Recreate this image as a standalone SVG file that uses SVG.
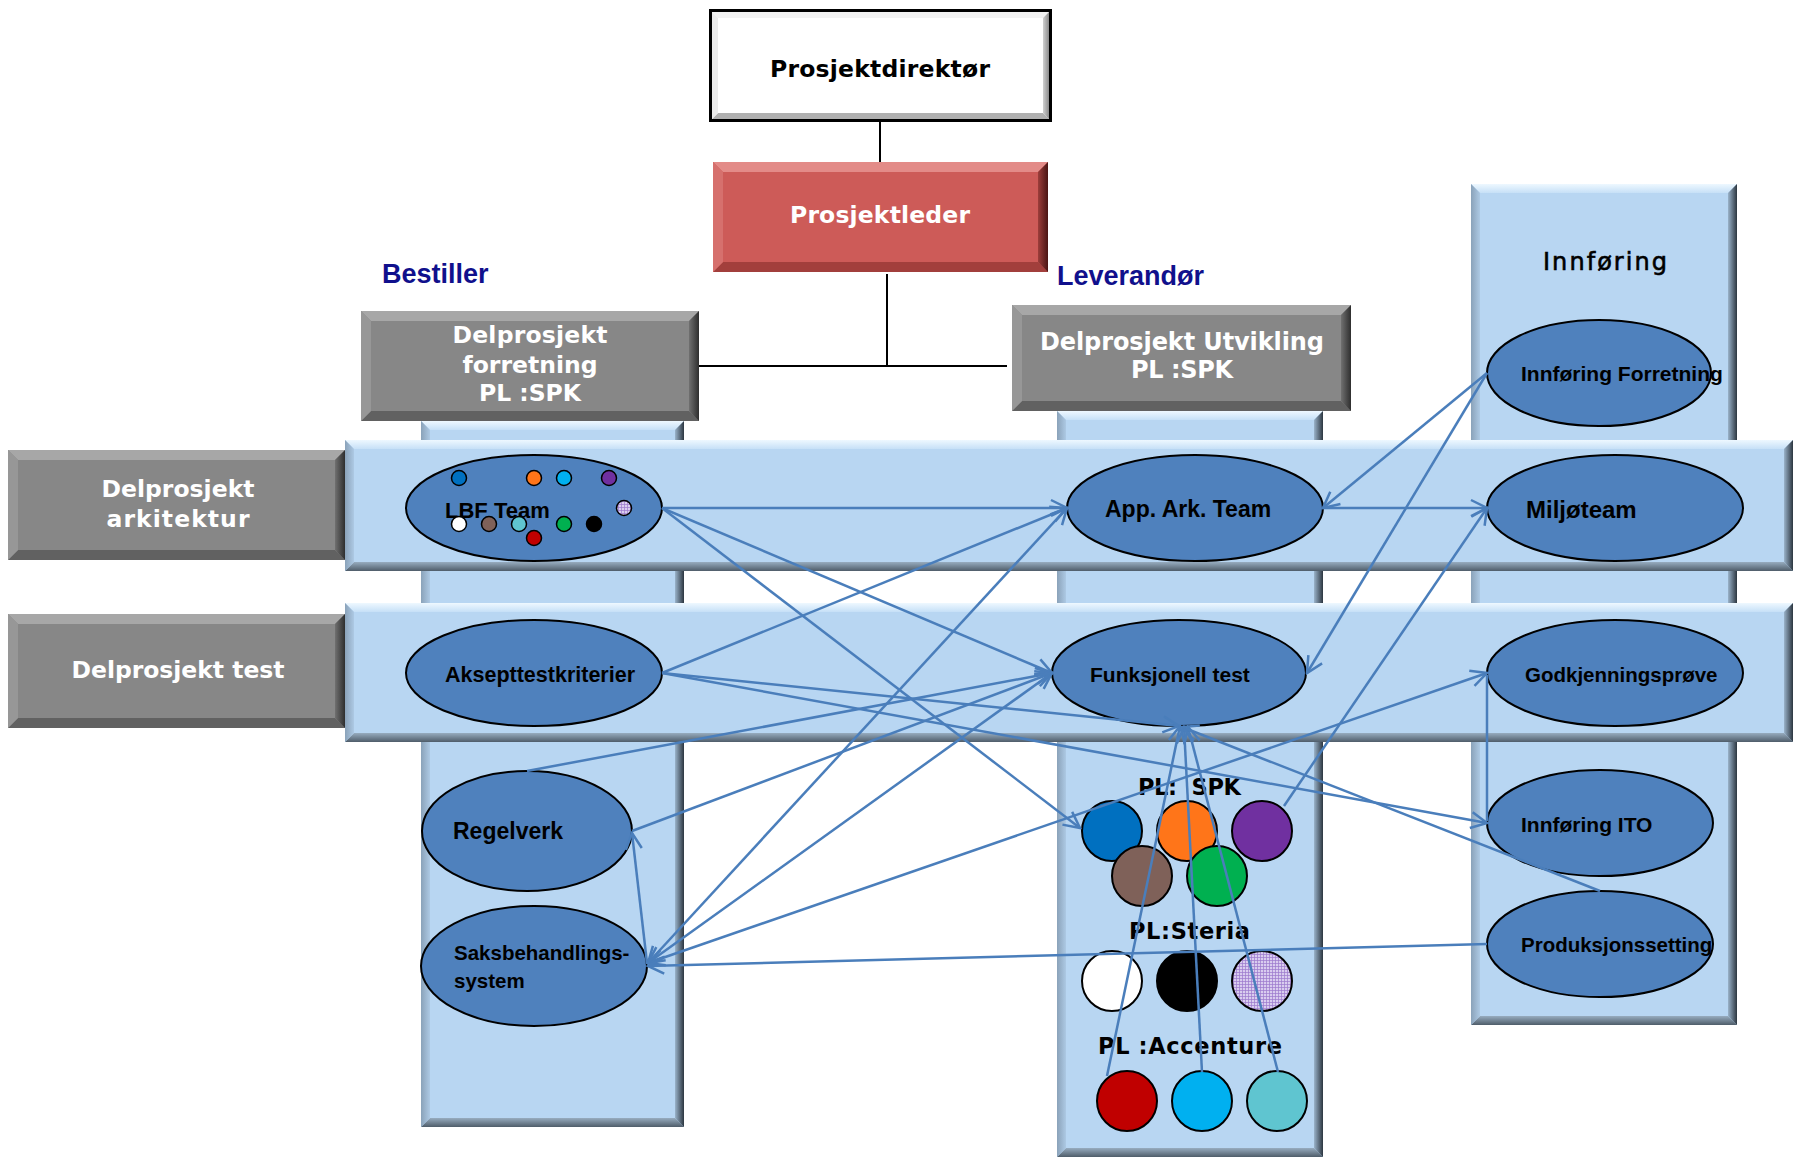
<svg xmlns="http://www.w3.org/2000/svg" width="1793" height="1160" viewBox="0 0 1793 1160">
<defs>
<style>
.gc{fill:#878787}.gt{fill:#A7A7A7}.gl{fill:#979797}.gr{fill:url(#grayR)}.gb{fill:#616161}
.rc{fill:#CD5B58}.rt{fill:#E38B88}.rl{fill:#D6706D}.rr{fill:url(#redR)}.rb{fill:#A23F3C}
.wc{fill:#FFFFFF}.wt{fill:#F2F2F2}.wl{fill:#EBEBEB}.wr{fill:url(#whiteR)}.wb{fill:#B0B0B0}
.bc{fill:#B8D6F2}.bt{fill:url(#blueT)}.bl{fill:url(#blueL)}.br{fill:url(#blueR)}.bb{fill:url(#blueB)}
.el{fill:#4F81BD;stroke:#000;stroke-width:2}
.dot{stroke:#000;stroke-width:2}
.sdot{stroke:#000;stroke-width:1.5}
.cn{fill:none;stroke:#4A7EBB;stroke-width:2.5}
.arr{marker-end:url(#ah)}
.arr2{marker-end:url(#ah);marker-start:url(#ah)}
.ol{stroke:#000;stroke-width:2;fill:none}
.v{font-family:"DejaVu Sans",Verdana,sans-serif;font-weight:bold}
.cal{font-family:"Liberation Sans",Arial,sans-serif;font-weight:bold;fill:#000}
.wtx{fill:#FFFFFF}
.blk{fill:#000}
.hd{font-family:"Liberation Sans",Arial,sans-serif;font-weight:bold;font-size:27px;fill:#10108C}
</style>
<linearGradient id="grayR" x1="0" y1="0" x2="1" y2="0"><stop offset="0" stop-color="#707070"/><stop offset="1" stop-color="#2E2E2E"/></linearGradient>
<linearGradient id="redR" x1="0" y1="0" x2="1" y2="0"><stop offset="0" stop-color="#9C3E3B"/><stop offset="1" stop-color="#4A1514"/></linearGradient>
<linearGradient id="whiteR" x1="0" y1="0" x2="1" y2="0"><stop offset="0" stop-color="#D0D0D0"/><stop offset="1" stop-color="#6A6A6A"/></linearGradient>
<linearGradient id="blueT" x1="0" y1="0" x2="0" y2="1"><stop offset="0" stop-color="#EEF8FF"/><stop offset="1" stop-color="#C6E0F7"/></linearGradient>
<linearGradient id="blueL" x1="0" y1="0" x2="1" y2="0"><stop offset="0" stop-color="#8AA2B9"/><stop offset="1" stop-color="#ADC9E4"/></linearGradient>
<linearGradient id="blueR" x1="0" y1="0" x2="1" y2="0"><stop offset="0" stop-color="#9AB3CA"/><stop offset="1" stop-color="#2C3640"/></linearGradient>
<linearGradient id="blueB" x1="0" y1="0" x2="0" y2="1"><stop offset="0" stop-color="#97ACBF"/><stop offset="1" stop-color="#4F5D6A"/></linearGradient>
<pattern id="lav" width="3" height="3" patternUnits="userSpaceOnUse">
<rect width="3" height="3" fill="#D9CDEF"/>
<path d="M0,0.4 H3 M0.4,0 V3" stroke="#9C7ACD" stroke-width="0.8"/>
</pattern>
<marker id="ah" viewBox="0 0 20 20" refX="18" refY="10" markerWidth="20" markerHeight="20" markerUnits="userSpaceOnUse" orient="auto-start-reverse">
<path d="M2,2 L18,10 L2,18" fill="none" stroke="#4A7EBB" stroke-width="2.5"/>
</marker>
</defs>

<!-- Columns -->
<g id="col-bestiller">
<rect class="bc" x="421" y="421" width="263" height="706"/>
<polygon class="bt" points="421,421 684,421 675,430 430,430"/>
<polygon class="bb" points="421,1127 684,1127 675,1118 430,1118"/>
<polygon class="bl" points="421,421 430,430 430,1118 421,1127"/>
<polygon class="br" points="684,421 675,430 675,1118 684,1127"/>
</g>
<g id="col-leverandor">
<rect class="bc" x="1057" y="411" width="266" height="746"/>
<polygon class="bt" points="1057,411 1323,411 1314,420 1066,420"/>
<polygon class="bb" points="1057,1157 1323,1157 1314,1148 1066,1148"/>
<polygon class="bl" points="1057,411 1066,420 1066,1148 1057,1157"/>
<polygon class="br" points="1323,411 1314,420 1314,1148 1323,1157"/>
</g>
<g id="col-innforing">
<rect class="bc" x="1471" y="184" width="266" height="841"/>
<polygon class="bt" points="1471,184 1737,184 1728,193 1480,193"/>
<polygon class="bb" points="1471,1025 1737,1025 1728,1016 1480,1016"/>
<polygon class="bl" points="1471,184 1480,193 1480,1016 1471,1025"/>
<polygon class="br" points="1737,184 1728,193 1728,1016 1737,1025"/>
<text x="1605" y="270" font-family="DejaVu Sans, Verdana, sans-serif" font-size="24" fill="#000" text-anchor="middle" textLength="124" lengthAdjust="spacing" stroke="#000" stroke-width="0.6">Innføring</text>
</g>

<!-- Bands -->
<g id="band-arkitektur">
<rect class="bc" x="345" y="440" width="1448" height="131"/>
<polygon class="bt" points="345,440 1793,440 1784,449 354,449"/>
<polygon class="bb" points="345,571 1793,571 1784,562 354,562"/>
<polygon class="bl" points="345,440 354,449 354,562 345,571"/>
<polygon class="br" points="1793,440 1784,449 1784,562 1793,571"/>
</g>
<g id="band-test">
<rect class="bc" x="345" y="603" width="1448" height="139"/>
<polygon class="bt" points="345,603 1793,603 1784,612 354,612"/>
<polygon class="bb" points="345,742 1793,742 1784,733 354,733"/>
<polygon class="bl" points="345,603 354,612 354,733 345,742"/>
<polygon class="br" points="1793,603 1784,612 1784,733 1793,742"/>
</g>

<!-- Org connectors -->
<g id="org-connectors">
<line class="ol" x1="880" y1="122" x2="880" y2="162"/>
<line class="ol" x1="887" y1="274" x2="887" y2="366"/>
<line class="ol" x1="692" y1="366" x2="1007" y2="366"/>
</g>

<!-- Boxes -->
<g id="prosjektdirektor">
<rect class="wc" x="709" y="9" width="343" height="113"/>
<polygon class="wt" points="709,9 1052,9 1043,18 718,18"/>
<polygon class="wb" points="709,122 1052,122 1043,113 718,113"/>
<polygon class="wl" points="709,9 718,18 718,113 709,122"/>
<polygon class="wr" points="1052,9 1043,18 1043,113 1052,122"/>
<rect x="710.5" y="10.5" width="340" height="110" fill="none" stroke="#000" stroke-width="3"/>
<text class="v blk" x="880" y="77" font-size="23.5" text-anchor="middle" textLength="220" lengthAdjust="spacing">Prosjektdirektør</text>
</g>
<g id="prosjektleder">
<rect class="rc" x="713" y="162" width="335" height="110"/>
<polygon class="rt" points="713,162 1048,162 1038,172 723,172"/>
<polygon class="rb" points="713,272 1048,272 1038,262 723,262"/>
<polygon class="rl" points="713,162 723,172 723,262 713,272"/>
<polygon class="rr" points="1048,162 1038,172 1038,262 1048,272"/>
<text class="v wtx" x="880" y="223" font-size="23.5" text-anchor="middle" textLength="180" lengthAdjust="spacing">Prosjektleder</text>
</g>
<g id="label-bestiller"><text class="hd" x="382" y="283">Bestiller</text></g>
<g id="label-leverandor"><text class="hd" x="1057" y="285">Leverandør</text></g>
<g id="dp-forretning">
<rect class="gc" x="361" y="311" width="338" height="110"/>
<polygon class="gt" points="361,311 699,311 689,321 371,321"/>
<polygon class="gb" points="361,421 699,421 689,411 371,411"/>
<polygon class="gl" points="361,311 371,321 371,411 361,421"/>
<polygon class="gr" points="699,311 689,321 689,411 699,421"/>
<text class="v wtx" x="530" y="343" font-size="23.5" text-anchor="middle" textLength="155" lengthAdjust="spacing">Delprosjekt</text>
<text class="v wtx" x="530" y="373" font-size="23.5" text-anchor="middle" textLength="135" lengthAdjust="spacing">forretning</text>
<text class="v wtx" x="530" y="401" font-size="23.5" text-anchor="middle" textLength="102" lengthAdjust="spacing">PL :SPK</text>
</g>
<g id="dp-utvikling">
<rect class="gc" x="1012" y="305" width="339" height="106"/>
<polygon class="gt" points="1012,305 1351,305 1341,315 1022,315"/>
<polygon class="gb" points="1012,411 1351,411 1341,401 1022,401"/>
<polygon class="gl" points="1012,305 1022,315 1022,401 1012,411"/>
<polygon class="gr" points="1351,305 1341,315 1341,401 1351,411"/>
<text class="v wtx" x="1182" y="350" font-size="24" text-anchor="middle" textLength="284" lengthAdjust="spacing">Delprosjekt Utvikling</text>
<text class="v wtx" x="1182" y="378" font-size="24" text-anchor="middle" textLength="102" lengthAdjust="spacing">PL :SPK</text>
</g>
<g id="dp-arkitektur">
<rect class="gc" x="8" y="450" width="337" height="110"/>
<polygon class="gt" points="8,450 345,450 335,460 18,460"/>
<polygon class="gb" points="8,560 345,560 335,550 18,550"/>
<polygon class="gl" points="8,450 18,460 18,550 8,560"/>
<polygon class="gr" points="345,450 335,460 335,550 345,560"/>
<text class="v wtx" x="178" y="497" font-size="23.5" text-anchor="middle" textLength="153" lengthAdjust="spacing">Delprosjekt</text>
<text class="v wtx" x="178" y="527" font-size="23.5" text-anchor="middle" textLength="143" lengthAdjust="spacing">arkitektur</text>
</g>
<g id="dp-test">
<rect class="gc" x="8" y="614" width="337" height="114"/>
<polygon class="gt" points="8,614 345,614 335,624 18,624"/>
<polygon class="gb" points="8,728 345,728 335,718 18,718"/>
<polygon class="gl" points="8,614 18,624 18,718 8,728"/>
<polygon class="gr" points="345,614 335,624 335,718 345,728"/>
<text class="v wtx" x="178" y="678" font-size="23.5" text-anchor="middle" textLength="213" lengthAdjust="spacing">Delprosjekt test</text>
</g>

<!-- Ellipse nodes -->
<g id="lbf-team">
<ellipse class="el" cx="534" cy="508" rx="128" ry="53"/>
<text class="cal" x="445" y="518" font-size="22">LBF Team</text>
<circle class="sdot" cx="459" cy="478" r="7.5" fill="#0070C0"/>
<circle class="sdot" cx="534" cy="478" r="7.5" fill="#FF7519"/>
<circle class="sdot" cx="564" cy="478" r="7.5" fill="#00B0F0"/>
<circle class="sdot" cx="609" cy="478" r="7.5" fill="#7030A0"/>
<circle class="sdot" cx="624" cy="508" r="7.5" fill="url(#lav)"/>
<circle class="sdot" cx="459" cy="524" r="7.5" fill="#FFFFFF"/>
<circle class="sdot" cx="489" cy="524" r="7.5" fill="#7F6159"/>
<circle class="sdot" cx="519" cy="524" r="7.5" fill="#5FC5D0"/>
<circle class="sdot" cx="564" cy="524" r="7.5" fill="#00B050"/>
<circle class="sdot" cx="594" cy="524" r="7.5" fill="#000000"/>
<circle class="sdot" cx="534" cy="538" r="7.5" fill="#C00000"/>
</g>
<g id="app-ark-team">
<ellipse class="el" cx="1195" cy="508" rx="128" ry="53"/>
<text class="cal" x="1105" y="517" font-size="23">App. Ark. Team</text>
</g>
<g id="innforing-forretning">
<ellipse class="el" cx="1599" cy="373" rx="112" ry="53"/>
<text class="cal" x="1521" y="381" font-size="21">Innføring Forretning</text>
</g>
<g id="miljoteam">
<ellipse class="el" cx="1615" cy="508" rx="128" ry="53"/>
<text class="cal" x="1526" y="518" font-size="24">Miljøteam</text>
</g>
<g id="aksepttestkriterier">
<ellipse class="el" cx="534" cy="673" rx="128" ry="53"/>
<text class="cal" x="445" y="682" font-size="21.5">Aksepttestkriterier</text>
</g>
<g id="funksjonell-test">
<ellipse class="el" cx="1179" cy="673" rx="127" ry="53"/>
<text class="cal" x="1090" y="682" font-size="21">Funksjonell test</text>
</g>
<g id="godkjenningsprove">
<ellipse class="el" cx="1615" cy="673" rx="128" ry="53"/>
<text class="cal" x="1525" y="682" font-size="20.5">Godkjenningsprøve</text>
</g>
<g id="regelverk">
<ellipse class="el" cx="527" cy="831" rx="105" ry="60"/>
<text class="cal" x="453" y="839" font-size="23">Regelverk</text>
</g>
<g id="saksbehandlingssystem">
<ellipse class="el" cx="534" cy="966" rx="113" ry="60"/>
<text class="cal" x="454" y="960" font-size="20.5">Saksbehandlings-</text>
<text class="cal" x="454" y="988" font-size="20.5">system</text>
</g>
<g id="innforing-ito">
<ellipse class="el" cx="1600" cy="823" rx="113" ry="53"/>
<text class="cal" x="1521" y="832" font-size="21">Innføring ITO</text>
</g>
<g id="produksjonssetting">
<ellipse class="el" cx="1600" cy="944" rx="113" ry="53"/>
<text class="cal" x="1521" y="952" font-size="20.5">Produksjonssetting</text>
</g>

<!-- Supplier teams -->
<g id="pl-spk">
<text class="v blk" x="1138" y="795" font-size="22.5" textLength="103" lengthAdjust="spacing" xml:space="preserve">PL:  SPK</text>
<circle class="dot" cx="1112" cy="831" r="30" fill="#0070C0"/>
<circle class="dot" cx="1187" cy="831" r="30" fill="#FF7519"/>
<circle class="dot" cx="1262" cy="831" r="30" fill="#7030A0"/>
<circle class="dot" cx="1142" cy="876" r="30" fill="#7F6159"/>
<circle class="dot" cx="1217" cy="876" r="30" fill="#00B050"/>
</g>
<g id="pl-steria">
<text class="v blk" x="1129" y="939" font-size="22.5" textLength="121" lengthAdjust="spacing">PL:Steria</text>
<circle class="dot" cx="1112" cy="981" r="30" fill="#FFFFFF"/>
<circle class="dot" cx="1187" cy="981" r="30" fill="#000000"/>
<circle class="dot" cx="1262" cy="981" r="30" fill="url(#lav)"/>
</g>
<g id="pl-accenture">
<text class="v blk" x="1098" y="1054" font-size="22.5" textLength="184" lengthAdjust="spacing">PL :Accenture</text>
<circle class="dot" cx="1127" cy="1101" r="30" fill="#C00000"/>
<circle class="dot" cx="1202" cy="1101" r="30" fill="#00B0F0"/>
<circle class="dot" cx="1277" cy="1101" r="30" fill="#5FC5D0"/>
</g>

<!-- Connectors -->
<g id="connectors">
<path class="cn arr" d="M662,508 L1067,508"/>
<path class="cn arr" d="M662,508 L1052,673"/>
<path class="cn arr" d="M662,508 L1080,828"/>
<path class="cn arr" d="M662,673 L1067,508"/>
<path class="cn arr" d="M662,673 L1487,823"/>
<path class="cn arr" d="M662,673 L1179,726"/>
<path class="cn arr" d="M527,771 L1052,673"/>
<path class="cn arr" d="M632,831 L1052,673"/>
<path class="cn arr" d="M647,963 L632,833"/>
<path class="cn arr2" d="M1067,508 L648,963"/>
<path class="cn arr2" d="M1052,673 L648,963"/>
<path class="cn arr2" d="M1487,673 L648,963"/>
<path class="cn arr" d="M1487,944 L648,966"/>
<path class="cn arr" d="M1323,508 L1487,508"/>
<path class="cn arr" d="M1487,373 L1323,508"/>
<path class="cn arr" d="M1487,373 L1307,673"/>
<path class="cn arr" d="M1284,806 L1487,508"/>
<path class="cn" d="M1487,675 L1487,821"/>
<path class="cn arr" d="M1107,1076 L1180,726"/>
<path class="cn arr" d="M1202,1072 L1184,727"/>
<path class="cn arr" d="M1278,1072 L1188,727"/>
<path class="cn arr" d="M1600,891 L1182,727"/>
</g>
</svg>
